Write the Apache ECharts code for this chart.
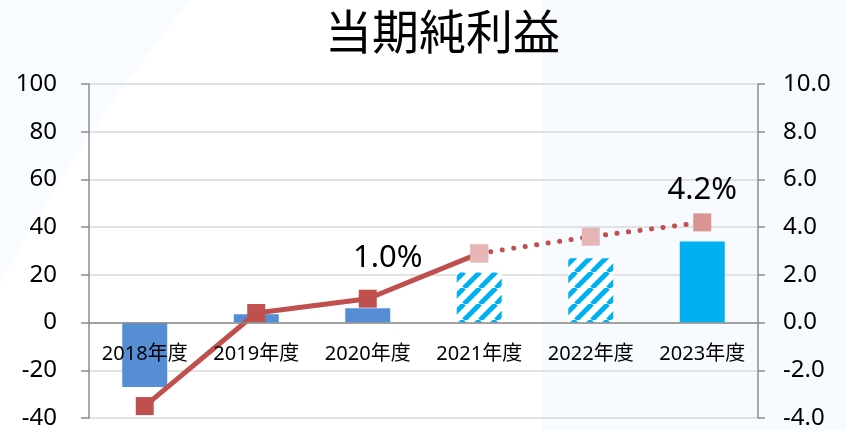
<!DOCTYPE html>
<html><head><meta charset="utf-8">
<script src="https://cdn.jsdelivr.net/npm/echarts@6/dist/echarts.min.js"></script>
<style>html,body{margin:0;padding:0;background:#fff}#c{width:846px;height:430px}</style>
</head><body><div id="c"></div>
<script>
const categories = ['2018年度','2019年度','2020年度','2021年度','2022年度','2023年度'];
const profitValues = [-27, 3.5, 6, 21, 27, 34];
const marginSolid = [-3.5, 0.4, 1.0, 2.9, null, null];
const marginDotted = [null, null, null, 2.9, 3.6, 4.2];
const leftTicks = {min: -40, max: 100, interval: 20};
const rightTicks = {min: -4, max: 10, interval: 2};

const FONT = '"Noto Sans", "Noto Sans CJK JP", sans-serif';
const TITLE_FONT = '"Noto Sans CJK JP", sans-serif';

const GRID_TOP = 84, GRID_BOTTOM = 12, H = 430;
const plotH = H - GRID_TOP - GRID_BOTTOM;
const zeroOffset = -plotH * (0 - leftTicks.min) / (leftTicks.max - leftTicks.min);

function stripePattern() {
  const S = 16;
  const c = document.createElement('canvas');
  c.width = S; c.height = S;
  const ctx = c.getContext('2d');
  ctx.fillStyle = '#ffffff';
  ctx.fillRect(0, 0, S, S);
  ctx.strokeStyle = '#00B0F0';
  ctx.lineWidth = 5;
  for (const o of [-S, 0, S]) {
    ctx.beginPath();
    ctx.moveTo(o, S);
    ctx.lineTo(o + S, 0);
    ctx.stroke();
  }
  return {image: c, repeat: 'repeat'};
}
const hatch = stripePattern();
const barColors = ['#558ED5', '#558ED5', '#558ED5', hatch, hatch, '#00B0F0'];
const solidMarkerColors = ['#C0504D', '#C0504D', '#C0504D', '#E6B5B5'];
const dottedMarkerColors = ['#E6B5B5', '#E6B5B5', '#E6B5B5', '#E6B5B5', '#E6B5B5', '#D99594'];

const chart = echarts.init(document.getElementById('c'), null, {renderer: 'canvas'});
chart.setOption({
  animation: false,
  textStyle: {fontFamily: FONT},
  graphic: [
    {type: 'rect', z: -100, silent: true, shape: {x: 542, y: 0, width: 304, height: 430}, style: {fill: '#F7FBFF'}},
    {type: 'polygon', z: -100, silent: true, shape: {points: [[0,0],[190,0],[120,90],[60,180],[0,282]]}, style: {fill: '#F8FBFF'}}
  ],
  title: {
    text: '当期純利益', left: 320, top: 3,
    textStyle: {fontFamily: TITLE_FONT, fontSize: 47, fontWeight: 'normal', color: '#000'}
  },
  grid: {left: 89, right: 88, top: GRID_TOP, bottom: GRID_BOTTOM, containLabel: false, outerBoundsMode: 'none'},
  xAxis: {
    type: 'category', data: categories, offset: zeroOffset, z: 10,
    axisLine: {onZero: false, lineStyle: {color: '#8C8C8C', width: 1.5}},
    axisTick: {show: false},
    axisLabel: {margin: 22, fontSize: 20, color: '#000', fontFamily: FONT}
  },
  yAxis: [
    {
      type: 'value', min: leftTicks.min, max: leftTicks.max, interval: leftTicks.interval,
      axisLine: {show: true, onZero: false, lineStyle: {color: '#8C8C8C', width: 1.5}},
      axisTick: {show: true, length: 8, lineStyle: {color: '#8C8C8C', width: 1.5}},
      axisLabel: {margin: 32, fontSize: 24, color: '#000', fontFamily: FONT},
      splitLine: {lineStyle: {color: '#D9D9D9', width: 1.5}}
    },
    {
      type: 'value', min: rightTicks.min, max: rightTicks.max, interval: rightTicks.interval,
      position: 'right',
      axisLine: {show: true, onZero: false, lineStyle: {color: '#8C8C8C', width: 1.5}},
      axisTick: {show: true, length: 7, lineStyle: {color: '#8C8C8C', width: 1.5}},
      axisLabel: {margin: 25, fontSize: 24, color: '#000', fontFamily: FONT, formatter: v => v.toFixed(1)},
      splitLine: {show: false}
    }
  ],
  series: [
    {
      type: 'bar', yAxisIndex: 0, barWidth: 45, z: 2,
      data: profitValues.map((v, i) => ({value: v, itemStyle: {color: barColors[i]}}))
    },
    {
      type: 'line', yAxisIndex: 1, z: 3, symbol: 'rect', symbolSize: 18,
      lineStyle: {color: '#C0504D', width: 5},
      data: marginSolid.map((v, i) => v === null ? null : ({
        value: v, itemStyle: {color: solidMarkerColors[i]},
        label: i === 2 ? {show: true, position: 'top', distance: 16, offset: [20, 0], fontSize: 31, color: '#000', fontFamily: FONT, formatter: p => p.value.toFixed(1) + '%'} : {show: false}
      }))
    },
    {
      type: 'line', yAxisIndex: 1, z: 4, symbol: 'rect', symbolSize: 18,
      lineStyle: {color: '#C0504D', width: 5, type: [0.1, 11.5], cap: 'round'},
      data: marginDotted.map((v, i) => v === null ? null : ({
        value: v, itemStyle: {color: dottedMarkerColors[i]},
        label: i === 5 ? {show: true, position: 'top', distance: 8, fontSize: 31, color: '#000', fontFamily: FONT, formatter: p => p.value.toFixed(1) + '%'} : {show: false}
      }))
    }
  ]
});
</script>
</body></html>
